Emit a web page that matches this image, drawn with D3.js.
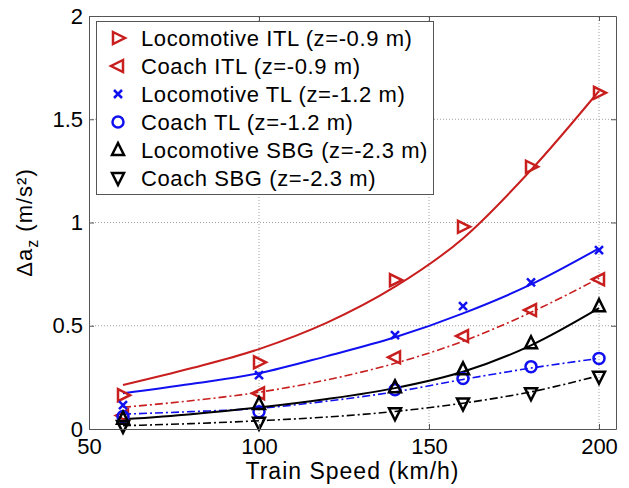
<!DOCTYPE html>
<html>
<head>
<meta charset="utf-8">
<script src="https://cdn.jsdelivr.net/npm/d3@7"></script>
<style>
body { margin: 0; background: #fff; }
text { font-family: Arial, "Liberation Sans", Helvetica, sans-serif; fill: #000; }
</style>
</head>
<body>
<svg id="chart" width="629" height="488"></svg>
<script>
// measured points (km/h -> m/s2)
var speeds = [60, 100, 140, 160, 180, 200];
var locoITL = [0.164, 0.323, 0.721, 0.979, 1.27, 1.628];
var coachITL = [0.065, 0.173, 0.347, 0.45, 0.576, 0.725];
var locoTL = [0.116, 0.261, 0.455, 0.595, 0.71, 0.866];
var coachTL = [0.06, 0.084, 0.19, 0.245, 0.302, 0.342];
var locoSBG = [0.05, 0.121, 0.202, 0.289, 0.415, 0.595];
var coachSBG = [0.015, 0.03, 0.076, 0.124, 0.173, 0.253];

// fitted trend lines
var fitSpeeds = [60, 80, 100, 120, 140, 160, 180, 200];
var locoITLFit = [0.213, 0.294, 0.387, 0.515, 0.689, 0.923, 1.254, 1.637];
var coachITLFit = [0.105, 0.137, 0.178, 0.238, 0.318, 0.425, 0.565, 0.73];
var locoTLFit = [0.173, 0.218, 0.27, 0.353, 0.444, 0.56, 0.70, 0.875];
var coachTLFit = [0.072, 0.084, 0.1, 0.135, 0.18, 0.24, 0.295, 0.342];
var locoSBGFit = [0.047, 0.072, 0.104, 0.145, 0.198, 0.277, 0.405, 0.585];
var coachSBGFit = [0.016, 0.026, 0.04, 0.058, 0.085, 0.125, 0.18, 0.258];

var xTicks = [50, 100, 150, 200];
var yTicks = [0, 0.5, 1, 1.5, 2];
var legendLabels = [
    "Locomotive ITL (z=-0.9 m)",
    "Coach ITL (z=-0.9 m)",
    "Locomotive TL (z=-1.2 m)",
    "Coach TL (z=-1.2 m)",
    "Locomotive SBG (z=-2.3 m)",
    "Coach SBG (z=-2.3 m)"
];

var width = 629;
var height = 488;
var margins = {top: 16, right: 13, bottom: 59, left: 89};
var red = "#c81e1e";
var blue = "#1010f0";
var dashDot = "8,3,2,3";

var series = [
    {label: legendLabels[0], pts: locoITL, fit: locoITLFit, color: red, marker: "right", dash: null},
    {label: legendLabels[1], pts: coachITL, fit: coachITLFit, color: red, marker: "left", dash: dashDot},
    {label: legendLabels[2], pts: locoTL, fit: locoTLFit, color: blue, marker: "cross", dash: null},
    {label: legendLabels[3], pts: coachTL, fit: coachTLFit, color: blue, marker: "circle", dash: dashDot},
    {label: legendLabels[4], pts: locoSBG, fit: locoSBGFit, color: "#000", marker: "up", dash: null},
    {label: legendLabels[5], pts: coachSBG, fit: coachSBGFit, color: "#000", marker: "down", dash: dashDot}
];

function markerPath(type) {
    var s = 6;
    if (type == "right") return "M" + (-s + 1) + "," + (-s) + "L" + (s + 1) + ",0L" + (-s + 1) + "," + s + "Z";
    if (type == "left") return "M" + (s - 1) + "," + (-s) + "L" + (-s - 1) + ",0L" + (s - 1) + "," + s + "Z";
    if (type == "up") return "M0," + (-s - 1) + "L" + s + "," + (s - 1) + "L" + (-s) + "," + (s - 1) + "Z";
    if (type == "down") return "M0," + (s + 1) + "L" + s + "," + (-s + 1) + "L" + (-s) + "," + (-s + 1) + "Z";
    if (type == "cross") return "M-4,-4L4,4M-4,4L4,-4";
    return d3.symbol().type(d3.symbolCircle).size(Math.PI * 5.5 * 5.5)();
}

var svg = d3.select("#chart");
svg.append("rect").attr("width", width).attr("height", height).attr("fill", "#fff");

var innerW = width - margins.left - margins.right;
var innerH = height - margins.top - margins.bottom;

var x = d3.scaleLinear().domain([50, 205]).range([margins.left, margins.left + innerW]);
var y = d3.scaleLinear().domain([0, 2]).range([margins.top + innerH, margins.top]);

// GRID
var grid = svg.append("g").attr("class", "grid")
    .attr("stroke", "#a0a0a0")
    .attr("stroke-width", 1)
    .attr("stroke-dasharray", "1,2");

grid.selectAll("line.gx")
  .data(xTicks.filter(function(d) { return d > 50; }))
  .enter().append("line")
    .attr("class", "gx")
    .attr("x1", function(d) { return x(d); })
    .attr("x2", function(d) { return x(d); })
    .attr("y1", y(0))
    .attr("y2", y(2));

grid.selectAll("line.gy")
  .data(yTicks.filter(function(d) { return d > 0 && d < 2; }))
  .enter().append("line")
    .attr("class", "gy")
    .attr("x1", x(50))
    .attr("x2", x(205))
    .attr("y1", function(d) { return y(d); })
    .attr("y2", function(d) { return y(d); });

// FIT LINES
var line = d3.line()
    .x(function(d) { return x(d[0]); })
    .y(function(d) { return y(d[1]); })
    .curve(d3.curveMonotoneX);

svg.append("g").selectAll("path.fit")
  .data(series)
  .enter().append("path")
    .attr("class", "fit")
    .attr("d", function(s) { return line(fitSpeeds.map(function(v, i) { return [v, s.fit[i]]; })); })
    .attr("fill", "none")
    .attr("stroke", function(s) { return s.color; })
    .attr("stroke-width", function(s) { return s.dash ? 1.6 : 2; })
    .attr("stroke-dasharray", function(s) { return s.dash; });

// MARKERS
var groups = svg.append("g").selectAll("g.series")
  .data(series)
  .enter().append("g")
    .attr("class", "series");

groups.selectAll("path")
  .data(function(s) { return s.pts.map(function(v, i) { return {x: speeds[i], y: v, s: s}; }); })
  .enter().append("path")
    .attr("transform", function(d) { return "translate(" + x(d.x) + "," + y(d.y) + ")"; })
    .attr("d", function(d) { return markerPath(d.s.marker); })
    .attr("fill", "none")
    .attr("stroke", function(d) { return d.s.color; })
    .attr("stroke-width", 2.5)
    .attr("stroke-linejoin", "miter");

// AXES
function styleAxis(g) {
    g.attr("font-size", 22).attr("font-family", null);
    g.select(".domain").attr("stroke", "#555");
    g.selectAll(".tick line").attr("stroke", "#555");
    g.selectAll(".tick text").attr("fill", "#000");
}

svg.append("g")
    .attr("transform", "translate(0," + y(0) + ")")
    .call(d3.axisBottom(x).tickValues(xTicks).tickSizeInner(-5).tickSizeOuter(0).tickPadding(9))
    .call(styleAxis);

svg.append("g")
    .attr("transform", "translate(0," + y(2) + ")")
    .call(d3.axisTop(x).tickValues(xTicks).tickSizeInner(-5).tickSizeOuter(0).tickFormat(""))
    .call(styleAxis);

svg.append("g")
    .attr("transform", "translate(" + x(50) + ",0)")
    .call(d3.axisLeft(y).tickValues(yTicks).tickSizeInner(-5).tickSizeOuter(0).tickPadding(6).tickFormat(function(d) { return d; }))
    .call(styleAxis);

svg.append("g")
    .attr("transform", "translate(" + x(205) + ",0)")
    .call(d3.axisRight(y).tickValues(yTicks).tickSizeInner(-5).tickSizeOuter(0).tickFormat(""))
    .call(styleAxis);

// TITLES
svg.append("text")
    .attr("x", (x(50) + x(205)) / 2)
    .attr("y", 479)
    .attr("text-anchor", "middle")
    .attr("font-size", 23)
    .attr("letter-spacing", 1)
    .text("Train Speed (km/h)");

var yLabel = svg.append("text")
    .attr("transform", "translate(32," + (y(0) + y(2)) / 2 + ")rotate(-90)")
    .attr("text-anchor", "middle")
    .attr("font-size", 22)
    .attr("letter-spacing", 1);
yLabel.append("tspan").text("\u0394a");
yLabel.append("tspan").attr("dy", 6).attr("font-size", 16).text("z");
yLabel.append("tspan").attr("dy", -6).text(" (m/s\u00b2)");

// LEGEND
var legend = svg.append("g").attr("class", "legend");
legend.append("rect")
    .attr("x", 96.5)
    .attr("y", 21.5)
    .attr("width", 337)
    .attr("height", 173)
    .attr("fill", "#fff")
    .attr("stroke", "#555")
    .attr("stroke-width", 1);

var rows = legend.selectAll("g.row")
  .data(series)
  .enter().append("g")
    .attr("class", "row")
    .attr("transform", function(d, i) { return "translate(0," + (38 + i * 28) + ")"; });

rows.append("path")
    .attr("transform", "translate(118,0)")
    .attr("d", function(d) { return markerPath(d.marker); })
    .attr("fill", "none")
    .attr("stroke", function(d) { return d.color; })
    .attr("stroke-width", 2.5);

rows.append("text")
    .attr("x", 141)
    .attr("y", 8)
    .attr("font-size", 22)
    .attr("letter-spacing", 0.6)
    .text(function(d) { return d.label; });
</script>
</body>
</html>
